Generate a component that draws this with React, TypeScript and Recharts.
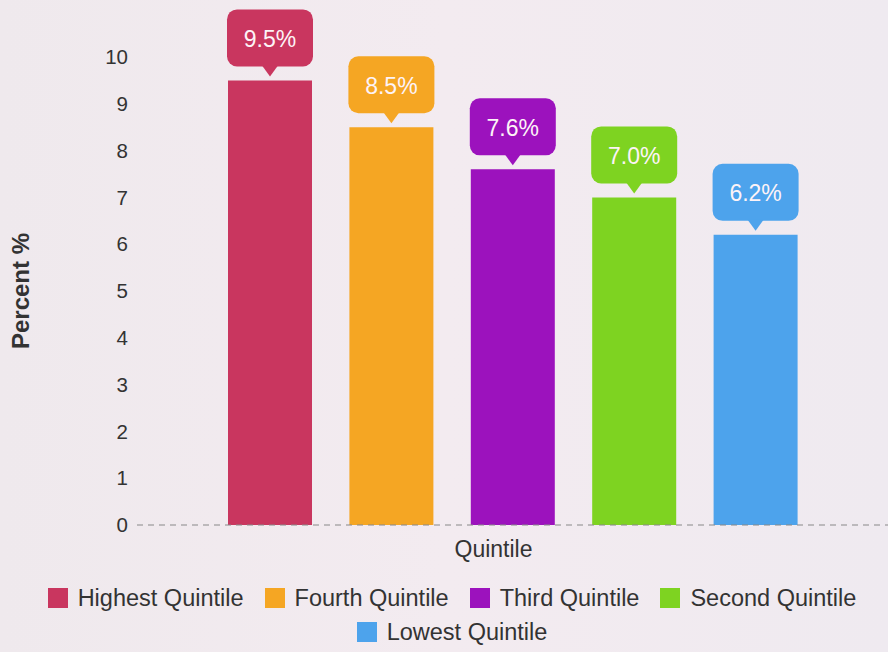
import { Bar, BarChart, Cell, Legend, XAxis, YAxis } from "recharts";

const quintiles = ["Highest Quintile", "Fourth Quintile", "Third Quintile", "Second Quintile", "Lowest Quintile"];
const percents = [9.5, 8.5, 7.6, 7.0, 6.2];
const colors = ["#c9365f", "#f5a623", "#9c12bd", "#7ed321", "#4da3ec"];
const yTicks = [0, 1, 2, 3, 4, 5, 6, 7, 8, 9, 10];

const data = quintiles.map((name, i) => ({ name, value: percents[i] }));

const FONT = "'Liberation Sans', Arial, sans-serif";

function Callout(props: any) {
  const { x, y, width, value, index } = props;
  const fill = colors[index];
  const top = y - 71;
  const bottom = y - 14;
  const cx = x + width / 2;
  return (
    <g>
      <rect x={x - 1} y={top} width={width + 2} height={bottom - top} rx={10} ry={10} fill={fill} />
      <path d={`M${cx - 8},${bottom - 1} L${cx},${y - 4} L${cx + 8},${bottom - 1} Z`} fill={fill} />
      <text
        x={cx}
        y={(top + bottom) / 2 + 1}
        textAnchor="middle"
        dominantBaseline="central"
        fill="#fdf3f7"
        fontSize={23}
        fontFamily={FONT}
      >
        {value.toFixed(1)}%
      </text>
    </g>
  );
}

function LegendBox() {
  return (
    <div
      style={{
        display: "flex",
        flexWrap: "wrap",
        justifyContent: "center",
        columnGap: 21,
        rowGap: 10,
        width: 860,
        marginLeft: 22,
        fontFamily: FONT,
        fontSize: 23.5,
        color: "#333",
      }}
    >
      {quintiles.map((q, i) => (
        <div key={q} style={{ display: "flex", alignItems: "center", gap: 10, lineHeight: "24px" }}>
          <span style={{ width: 20, height: 20, background: colors[i], display: "inline-block" }} />
          <span>{q}</span>
        </div>
      ))}
    </div>
  );
}

export default function App() {
  return (
    <div
      style={{
        position: "absolute",
        left: 0,
        top: 0,
        width: 888,
        height: 652,
        background: "linear-gradient(90deg, #efe9ed 0%, #f3ebf0 50%, #efeaf0 100%)",
      }}
    >
      <BarChart width={888} height={652} data={data} margin={{ top: 57, right: 0, left: 0, bottom: 8 }}>
        <YAxis
          domain={[0, 10]}
          ticks={yTicks}
          interval={0}
          width={137}
          axisLine={false}
          tickLine={false}
          tick={{ fontSize: 20.5, fill: "#333", fontFamily: FONT, dx: -1 }}
          label={{
            value: "Percent %",
            angle: -90,
            position: "insideLeft",
            offset: 20,
            style: { fontSize: 24, fill: "#333", fontFamily: FONT, fontWeight: 600, textAnchor: "middle" },
          }}
        />
        <XAxis
          dataKey="name"
          height={61}
          tick={false}
          tickLine={false}
          padding={{ left: 72, right: 72 }}
          axisLine={{ stroke: "#888", strokeDasharray: "6 5" }}
          label={{
            value: "Quintile",
            position: "insideTop",
            offset: 16,
            dx: -19,
            style: { fontSize: 23, fill: "#333", fontFamily: FONT },
          }}
        />
        <Legend verticalAlign="bottom" content={() => <LegendBox />} />
        <Bar dataKey="value" barSize={84} isAnimationActive={false} label={<Callout />}>
          {data.map((d, i) => (
            <Cell key={d.name} fill={colors[i]} />
          ))}
        </Bar>
      </BarChart>
    </div>
  );
}
